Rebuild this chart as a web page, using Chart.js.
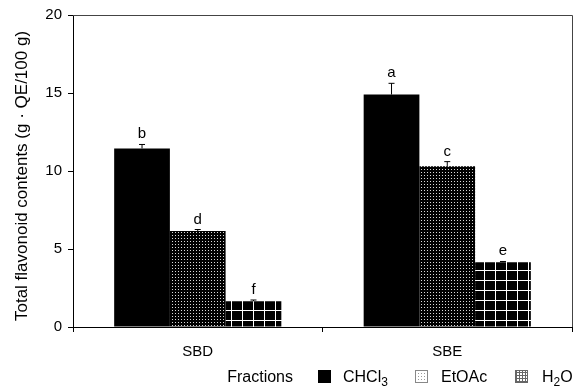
<!DOCTYPE html>
<html>
<head>
<meta charset="utf-8">
<script src="https://cdn.jsdelivr.net/npm/chart.js@4.4.0/dist/chart.umd.min.js"></script>
<style>
  html, body { margin: 0; padding: 0; background: #fff; }
  #wrap { width: 581px; height: 388px; }
</style>
</head>
<body>
<div id="wrap"><canvas id="flavChart" width="581" height="388"></canvas></div>
<script>
// data
const categories = ['SBD', 'SBE'];
const seriesNames = ['CHCl3', 'EtOAc', 'H2O'];
const chcl3 = [11.45, 14.9];
const etoac = [6.15, 10.3];
const h2o = [1.65, 4.15];
const chcl3Err = [0.25, 0.72];
const etoacErr = [0.1, 0.3];
const h2oErr = [0.08, 0.05];
const chcl3Letters = ['b', 'a'];
const etoacLetters = ['d', 'c'];
const h2oLetters = ['f', 'e'];
const yTicks = [0, 5, 10, 15, 20];
const yTitle = 'Total flavonoid contents (g · QE/100 g)';

const errs = [chcl3Err, etoacErr, h2oErr];
const letters = [chcl3Letters, etoacLetters, h2oLetters];
const FAM = '"Liberation Sans", Arial, sans-serif';

Chart.defaults.font.family = FAM;
Chart.defaults.font.size = 15;
Chart.defaults.color = '#000';

// fill patterns
function dotPattern(bg, dot) {
  const c = document.createElement('canvas');
  c.width = 3; c.height = 3;
  const g = c.getContext('2d');
  g.fillStyle = bg; g.fillRect(0, 0, 3, 3);
  g.fillStyle = dot; g.fillRect(1, 1, 1, 1);
  return g.createPattern(c, 'repeat');
}
function gridPattern(bg, line, w, h) {
  const c = document.createElement('canvas');
  c.width = w; c.height = h;
  const g = c.getContext('2d');
  g.fillStyle = bg; g.fillRect(0, 0, w, h);
  g.fillStyle = line;
  g.fillRect(0, 0, 1, h);
  g.fillRect(0, 0, w, 1);
  return g.createPattern(c, 'repeat');
}
const ctx0 = document.getElementById('flavChart').getContext('2d');
const dotFill = dotPattern('#000', '#d8d8d8');
const gridFill = gridPattern('#000', '#fff', 11, 10);

// error bars + significance letters
const errorBars = {
  id: 'errorBars',
  afterDatasetsDraw(chart) {
    const ctx = chart.ctx;
    const y = chart.scales.y;
    ctx.save();
    chart.data.datasets.forEach((ds, di) => {
      const meta = chart.getDatasetMeta(di);
      meta.data.forEach((bar, i) => {
        const top = y.getPixelForValue(ds.data[i] + errs[di][i]);
        ctx.strokeStyle = '#000';
        ctx.lineWidth = 1;
        ctx.beginPath();
        ctx.moveTo(bar.x, bar.y);
        ctx.lineTo(bar.x, top);
        ctx.moveTo(bar.x - 3, top);
        ctx.lineTo(bar.x + 3, top);
        ctx.stroke();
        ctx.fillStyle = '#000';
        ctx.font = '15px ' + FAM;
        ctx.textAlign = 'center';
        ctx.textBaseline = 'alphabetic';
        ctx.fillText(letters[di][i], bar.x, top - 6);
      });
    });
    ctx.restore();
  }
};

// top and right frame lines, y title
const frame = {
  id: 'frame',
  afterDraw(chart) {
    const a = chart.chartArea;
    const ctx = chart.ctx;
    ctx.save();
    ctx.strokeStyle = '#444';
    ctx.lineWidth = 1;
    ctx.beginPath();
    ctx.moveTo(a.left, a.top + 0.5);
    ctx.lineTo(a.right + 0.5, a.top + 0.5);
    ctx.lineTo(a.right + 0.5, a.bottom);
    ctx.stroke();

    ctx.translate(22, 176);
    ctx.rotate(-Math.PI / 2);
    ctx.font = '17px ' + FAM;
    ctx.fillStyle = '#000';
    ctx.textAlign = 'center';
    ctx.textBaseline = 'middle';
    ctx.fillText(yTitle, 0, 0);
    ctx.restore();
  }
};

// legend drawn in a row with the "Fractions" caption
const legendRow = {
  id: 'legendRow',
  afterDraw(chart) {
    const ctx = chart.ctx;
    const base = 382;
    ctx.save();
    ctx.fillStyle = '#000';
    ctx.font = '16px ' + FAM;
    ctx.textBaseline = 'alphabetic';
    ctx.textAlign = 'right';
    ctx.fillText('Fractions', 293, base);
    ctx.textAlign = 'left';

    const swX = [318, 415, 515];
    const txX = [343, 441, 542];
    const swY = 370, sw = 13;
    ctx.fillStyle = '#000';
    ctx.fillRect(swX[0], swY, sw, sw);
    ctx.fillStyle = dotPattern('#fff', '#999');
    ctx.fillRect(swX[1], swY, sw, sw);
    ctx.strokeStyle = '#888';
    ctx.strokeRect(swX[1] + 0.5, swY + 0.5, sw - 1, sw - 1);
    ctx.fillStyle = gridPattern('#fff', '#666', 3, 3);
    ctx.fillRect(swX[2], swY, sw, sw);
    ctx.strokeStyle = '#666';
    ctx.strokeRect(swX[2] + 0.5, swY + 0.5, sw - 1, sw - 1);

    // labels with subscript digits
    seriesNames.forEach((name, k) => {
      let x = txX[k];
      for (const ch of name) {
        const sub = /[0-9]/.test(ch);
        ctx.font = (sub ? '12px ' : '16px ') + FAM;
        ctx.fillStyle = '#000';
        ctx.fillText(ch, x, sub ? base + 4 : base);
        x += ctx.measureText(ch).width;
      }
    });
    ctx.restore();
  }
};

new Chart(ctx0, {
  type: 'bar',
  data: {
    labels: categories,
    datasets: [
      { label: seriesNames[0], data: chcl3, backgroundColor: '#000' },
      { label: seriesNames[1], data: etoac, backgroundColor: dotFill },
      { label: seriesNames[2], data: h2o, backgroundColor: gridFill }
    ]
  },
  options: {
    responsive: false,
    animation: false,
    devicePixelRatio: 1,
    layout: { padding: { top: 9, right: 9, left: 0, bottom: 0 } },
    datasets: {
      bar: { categoryPercentage: 0.67, barPercentage: 1.0, borderWidth: 0 }
    },
    plugins: {
      legend: { display: false },
      tooltip: { enabled: false }
    },
    scales: {
      x: {
        afterFit: s => { s.height = 61; },
        grid: { drawOnChartArea: false, tickLength: 5, color: '#000', offset: true },
        border: { color: '#000' },
        ticks: { padding: 11, color: '#000' }
      },
      y: {
        min: 0,
        max: 20,
        afterFit: s => { s.width = 73; },
        afterBuildTicks: s => { s.ticks = yTicks.map(v => ({ value: v })); },
        grid: { drawOnChartArea: false, tickLength: 5, color: '#000' },
        border: { color: '#000' },
        ticks: { padding: 6, color: '#000' }
      }
    }
  },
  plugins: [errorBars, frame, legendRow]
});
</script>
</body>
</html>
